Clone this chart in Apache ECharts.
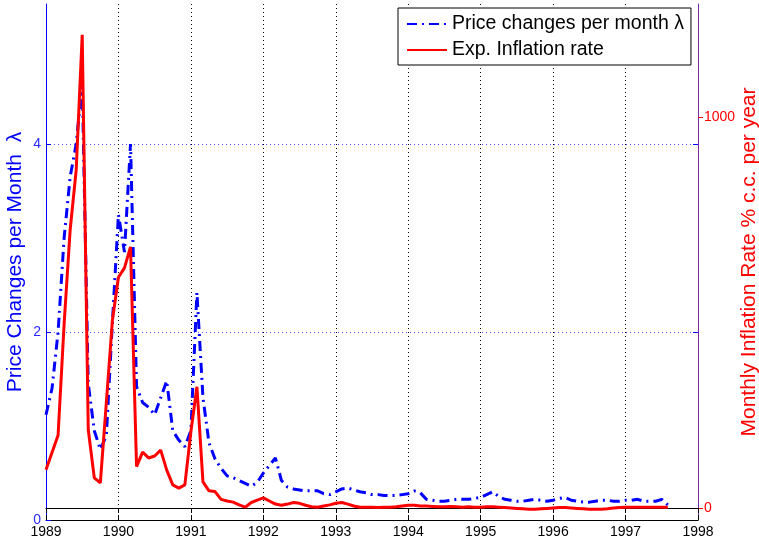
<!DOCTYPE html>
<html>
<head>
<meta charset="utf-8">
<script src="https://cdn.jsdelivr.net/npm/echarts@6/dist/echarts.min.js"></script>
<style>
html,body{margin:0;padding:0;background:#fff;}
#chart{width:759px;height:543px;}
</style>
</head>
<body>
<div id="chart"></div>
<script>
// Monthly data starting January 1989
const startYear = 1989;
const xTicks = [1989, 1990, 1991, 1992, 1993, 1994, 1995, 1996, 1997, 1998];
const leftTicks = [0, 2, 4];
const rightTicks = [0, 1000];

// Price changes per month (lambda), left axis
const lambdaValues = [
  1.12, 1.4, 2.0, 3.0, 3.65, 4.0, 4.65, 1.45, 0.95, 0.75, 0.9, 2.1,
  3.25, 2.85, 4.0, 1.42, 1.25, 1.2, 1.12, 1.3, 1.48, 0.95, 0.85, 0.78,
  0.95, 2.42, 1.3, 0.82, 0.65, 0.55, 0.47, 0.45, 0.42, 0.39, 0.36, 0.4,
  0.5, 0.58, 0.66, 0.42, 0.35, 0.33, 0.32, 0.31, 0.31, 0.31, 0.28, 0.27,
  0.3, 0.33, 0.34, 0.32, 0.3, 0.29, 0.27, 0.27, 0.26, 0.26, 0.26, 0.27,
  0.28, 0.31, 0.29, 0.22, 0.21, 0.2, 0.2, 0.21, 0.22, 0.22, 0.22, 0.23,
  0.24, 0.27, 0.3, 0.25, 0.22, 0.21, 0.2, 0.2, 0.21, 0.22, 0.21, 0.2,
  0.21, 0.23, 0.24, 0.21, 0.2, 0.19, 0.19, 0.2, 0.21, 0.21, 0.2, 0.2,
  0.21, 0.21, 0.22, 0.2, 0.2, 0.2, 0.22, 0.16
];

// Expected inflation rate (% c.c. per year), right axis
const inflationValues = [
  98, 142, 186, 470, 711, 864, 1210, 200, 77, 64, 270, 480,
  590, 614, 668, 106, 143, 128, 133, 148, 97, 59, 51, 59,
  195, 310, 67, 44, 42, 22, 18, 15, 8, 2, 14, 20,
  26, 18, 10, 7, 10, 14, 12, 7, 3, 2, 5, 8,
  12, 14, 10, 5, 2, 2, 2, 1, 2, 2, 3, 5,
  7, 7, 5, 5, 4, 3, 3, 4, 3, 2, 3, 2,
  2, 3, 3, 2, 1, 0, -1, -2, -3, -3, -2, -1,
  0, 1, 1, 0, -1, -2, -3, -3, -3, -2, 0, 1,
  2, 2, 2, 2, 2, 2, 2, 2
];

const FONT = 'Liberation Sans, Arial, Helvetica, sans-serif';
const toPairs = arr => arr.map((v, i) => [startYear + i / 12, v]);

const chart = echarts.init(document.getElementById('chart'), null, {renderer: 'canvas'});
chart.setOption({
  animation: false,
  backgroundColor: '#fff',
  grid: {left: 46, right: 61, top: 4, bottom: 23, show: false, containLabel: false, outerBoundsMode: 'none'},
  legend: {
    orient: 'vertical',
    left: 398,
    top: 8,
    padding: [6, 7, 5, 8],
    itemGap: 6,
    itemWidth: 40,
    itemHeight: 14,
    borderColor: '#000',
    borderWidth: 1,
    backgroundColor: '#fff',
    itemStyle: {opacity: 0},
    textStyle: {color: '#000', fontSize: 19.5, fontFamily: FONT},
    data: ['Price changes per month λ', 'Exp. Inflation rate']
  },
  xAxis: [{
    type: 'value', min: xTicks[0], max: xTicks[xTicks.length - 1], interval: 1,
    position: 'bottom',
    axisLine: {show: true, lineStyle: {color: '#000', width: 1}},
    axisTick: {show: true, inside: true, length: 5, lineStyle: {color: '#000'}},
    axisLabel: {color: '#000', fontSize: 14, fontFamily: FONT, margin: 5, formatter: v => String(v)},
    splitLine: {show: true, lineStyle: {color: '#000', width: 1, type: [1, 3]}}
  }, {
    type: 'value', min: xTicks[0], max: xTicks[xTicks.length - 1], interval: 1,
    position: 'top',
    axisLine: {show: true, lineStyle: {color: '#000', width: 1}},
    axisTick: {show: true, inside: true, length: 5, lineStyle: {color: '#000'}},
    axisLabel: {show: false},
    splitLine: {show: false}
  }],
  yAxis: [{
    type: 'value', min: 0, max: 5.49, position: 'left',
    name: 'Price Changes per Month  λ',
    nameLocation: 'middle', nameGap: 20, nameMoveOverlap: false,
    nameTextStyle: {color: '#0000ff', fontSize: 21, fontFamily: FONT},
    axisLine: {show: true, lineStyle: {color: '#0000ff', width: 1}},
    axisTick: {show: true, inside: true, length: 5, customValues: leftTicks, lineStyle: {color: '#0000ff'}},
    axisLabel: {customValues: leftTicks, color: '#2a2aff', fontSize: 14, fontFamily: FONT, margin: 5},
    splitLine: {show: true, lineStyle: {color: '#5050ff', width: 1, type: [1, 3]}}
  }, {
    type: 'value', min: -30.7, max: 1289, position: 'right',
    name: 'Monthly Inflation Rate % c.c. per year',
    nameLocation: 'middle', nameGap: 41, nameMoveOverlap: false,
    nameTextStyle: {color: '#ff0000', fontSize: 21, fontFamily: FONT},
    axisLine: {show: true, lineStyle: {color: '#7a2aa8', width: 1}},
    axisTick: {show: true, inside: false, length: 5, customValues: rightTicks, lineStyle: {color: '#ff0000'}},
    axisLabel: {customValues: rightTicks, color: '#ff0000', fontSize: 14, fontFamily: FONT, margin: 6, formatter: v => String(v)},
    splitLine: {show: false}
  }, {
    type: 'value', min: 0, max: 5.49, position: 'right',
    axisLine: {show: false},
    axisTick: {show: true, inside: true, length: 5, customValues: [2, 4], lineStyle: {color: '#0000ff'}},
    axisLabel: {show: false},
    splitLine: {show: false}
  }],
  series: [{
    name: 'Price changes per month λ',
    type: 'line',
    xAxisIndex: 0, yAxisIndex: 0,
    data: toPairs(lambdaValues),
    symbol: 'none',
    lineStyle: {color: '#0000ff', width: 3, type: [10, 5, 2, 5]},
    itemStyle: {color: '#0000ff'},
    z: 3
  }, {
    name: 'Exp. Inflation rate',
    type: 'line',
    xAxisIndex: 0, yAxisIndex: 1,
    data: toPairs(inflationValues),
    symbol: 'none',
    lineStyle: {color: '#ff0000', width: 3},
    itemStyle: {color: '#ff0000'},
    z: 4
  }]
});
</script>
</body>
</html>
